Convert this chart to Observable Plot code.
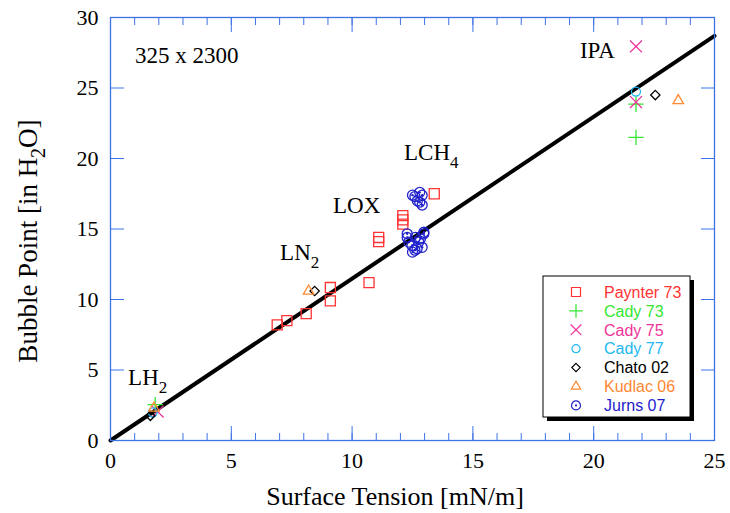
<!DOCTYPE html>
<html>
<head>
<meta charset="utf-8">
<script src="https://cdn.jsdelivr.net/npm/d3@7"></script>
<script src="https://cdn.jsdelivr.net/npm/@observablehq/plot@0.6"></script>
<style>
  html, body { margin: 0; padding: 0; background: #fff; }
</style>
</head>
<body>
<div id="chart"></div>
<script>
// ---- data ----
const paynterX = [6.9, 7.3, 8.1, 9.1, 9.1, 10.7, 11.1, 11.1, 12.1, 12.1, 12.1, 13.4];
const paynterY = [8.2, 8.5, 9.0, 10.85, 9.9, 11.2, 14.1, 14.4, 15.35, 15.65, 15.95, 17.5];
const cady73X = [1.85, 21.75, 21.75];
const cady73Y = [2.55, 23.85, 21.5];
const cady75X = [1.95, 21.75, 21.75];
const cady75Y = [2.05, 27.95, 24.0];
const cady77X = [1.75, 21.75];
const cady77Y = [2.0, 24.75];
const chatoX = [1.65, 8.45, 22.55];
const chatoY = [1.75, 10.6, 24.5];
const kudlacX = [1.8, 8.2, 23.5];
const kudlacY = [2.3, 10.6, 24.1];
const jurnsX = [12.28, 12.62, 12.97, 12.76, 12.48, 12.69, 12.5, 12.9, 12.35, 12.83, 12.28, 12.97, 12.6,
                12.6, 12.8, 12.9, 12.7, 12.9, 12.5, 12.8];
const jurnsY = [14.4, 14.4, 14.66, 14.07, 13.83, 13.6, 13.36, 13.7, 14.07, 14.3, 14.66, 14.77, 13.5,
                17.3, 17.6, 17.4, 17.0, 16.7, 17.4, 16.9];
const fitX = [0, 25];
const fitY = [0, 28.7];
const xMajor = [0, 5, 10, 15, 20, 25];
const xMinor = d3.range(0, 26);
const yMajor = [0, 5, 10, 15, 20, 25, 30];

const series = [
  {name: "Paynter 73", color: "#ff3333", symbol: "square2", r: 6.4, xs: paynterX, ys: paynterY},
  {name: "Cady 73", color: "#33e633", symbol: "plus", r: 5, xs: cady73X, ys: cady73Y},
  {name: "Cady 75", color: "#ee3399", symbol: "times", r: 5.5, xs: cady75X, ys: cady75Y},
  {name: "Cady 77", color: "#22b8f0", symbol: "circle", r: 4.5, xs: cady77X, ys: cady77Y},
  {name: "Chato 02", color: "#000000", symbol: "diamond2", r: 4.2, xs: chatoX, ys: chatoY},
  {name: "Kudlac 06", color: "#ff8833", symbol: "triangle2", r: 5, xs: kudlacX, ys: kudlacY},
  {name: "Jurns 07", color: "#2222cc", symbol: "circle", r: 5, xs: jurnsX, ys: jurnsY, dot: true}
];

const annotations = [
  {x: 0.75, y: 3.9, main: "LH", sub: "2"},
  {x: 7.04, y: 12.75, main: "LN", sub: "2"},
  {x: 9.23, y: 16.1, main: "LOX", sub: ""},
  {x: 12.17, y: 19.85, main: "LCH", sub: "4"},
  {x: 19.45, y: 27.1, main: "IPA", sub: ""}
];
const note = {x: 1.03, y: 26.75, text: "325 x 2300"};

const frameBlue = "#3d72e6";

const toRows = s => s.xs.map((x, i) => ({x, y: s.ys[i]}));
const fitRows = fitX.map((x, i) => ({x, y: fitY[i]}));

const marks = [
  Plot.line(fitRows, {x: "x", y: "y", stroke: "black", strokeWidth: 4}),
];
for (const s of series) {
  marks.push(Plot.dot(toRows(s), {x: "x", y: "y", symbol: s.symbol, r: s.r, stroke: s.color, fill: "none", strokeWidth: 1.3}));
  if (s.dot) marks.push(Plot.dot(toRows(s), {x: "x", y: "y", r: 1.2, fill: s.color, stroke: "none"}));
}
marks.push(
  Plot.frame({stroke: frameBlue, strokeWidth: 1.3}),
  Plot.axisX({anchor: "bottom", ticks: xMinor, tickSize: -7, text: null, stroke: frameBlue, label: null}),
  Plot.axisX({anchor: "bottom", ticks: xMajor, tickSize: -14, text: null, stroke: frameBlue, label: null}),
  Plot.axisX({anchor: "top", ticks: xMinor, tickSize: -7, text: null, stroke: frameBlue, label: null}),
  Plot.axisX({anchor: "top", ticks: xMajor, tickSize: -14, text: null, stroke: frameBlue, label: null}),
  Plot.axisY({anchor: "left", ticks: yMajor, tickSize: -14, text: null, stroke: frameBlue, label: null}),
  Plot.axisY({anchor: "right", ticks: yMajor, tickSize: -14, text: null, stroke: frameBlue, label: null}),
  Plot.axisX({anchor: "bottom", ticks: xMajor, tickSize: 0, tickPadding: 12, label: null, fontSize: 22, fill: "black"}),
  Plot.axisY({anchor: "left", ticks: yMajor, tickSize: 0, tickPadding: 12, label: null, fontSize: 22, fill: "black"})
);

const plot = Plot.plot({
  width: 730,
  height: 513,
  marginLeft: 110,
  marginRight: 16,
  marginTop: 17,
  marginBottom: 73,
  x: {domain: [0, 25]},
  y: {domain: [0, 30]},
  style: {fontFamily: "'Liberation Serif', 'Times New Roman', serif", fontSize: "22px", background: "white", overflow: "visible"},
  marks
});
document.getElementById("chart").appendChild(plot);

const sx = plot.scale("x"), sy = plot.scale("y");
const svg = d3.select(plot);
const serif = "'Liberation Serif', 'Times New Roman', serif";
const sans = "'Liberation Sans', Arial, sans-serif";

// annotations
const ag = svg.append("g").attr("font-family", serif).attr("fill", "black").attr("text-anchor", "start");
for (const a of annotations) {
  const t = ag.append("text").attr("x", sx.apply(a.x)).attr("y", sy.apply(a.y)).attr("font-size", 23);
  t.append("tspan").text(a.main);
  if (a.sub) t.append("tspan").attr("dy", 8).attr("font-size", 17).text(a.sub);
}
ag.append("text").attr("x", sx.apply(note.x)).attr("y", sy.apply(note.y)).attr("font-size", 23).text(note.text);

// axis titles
svg.append("text").attr("x", 395).attr("y", 505).attr("text-anchor", "middle")
  .attr("font-family", serif).attr("font-size", 26).text("Surface Tension [mN/m]");
const yl = svg.append("text").attr("transform", "translate(37,241) rotate(-90)").attr("text-anchor", "middle")
  .attr("font-family", serif).attr("font-size", 27);
yl.append("tspan").text("Bubble Point [in H");
yl.append("tspan").attr("dy", 8).attr("font-size", 20).text("2");
yl.append("tspan").attr("dy", -8).text("O]");

// legend
const lg = svg.append("g").attr("transform", "translate(543,276)").attr("text-anchor", "start");
const lw = 147, lh = 141;
lg.append("rect").attr("x", 4).attr("y", 4).attr("width", lw).attr("height", lh).attr("fill", "black");
lg.append("rect").attr("x", 0).attr("y", 0).attr("width", lw).attr("height", lh).attr("fill", "white").attr("stroke", "black").attr("stroke-width", 1);
const symMap = {square2: d3.symbolSquare2, plus: d3.symbolPlus, times: d3.symbolTimes, circle: d3.symbolCircle, diamond2: d3.symbolDiamond2, triangle2: d3.symbolTriangle2};
series.forEach((s, i) => {
  const yy = 16 + i * 18.9;
  const size = Math.PI * s.r * s.r * 0.8;
  lg.append("path").attr("d", d3.symbol(symMap[s.symbol], size)())
    .attr("transform", `translate(33,${yy})`).attr("fill", "none").attr("stroke", s.color).attr("stroke-width", 1.2);
  if (s.dot) lg.append("circle").attr("cx", 33).attr("cy", yy).attr("r", 1.1).attr("fill", s.color);
  lg.append("text").attr("x", 61).attr("y", yy).attr("dy", "0.36em").attr("font-family", sans).attr("font-size", 16)
    .attr("fill", s.color).text(s.name);
});
</script>
</body>
</html>
